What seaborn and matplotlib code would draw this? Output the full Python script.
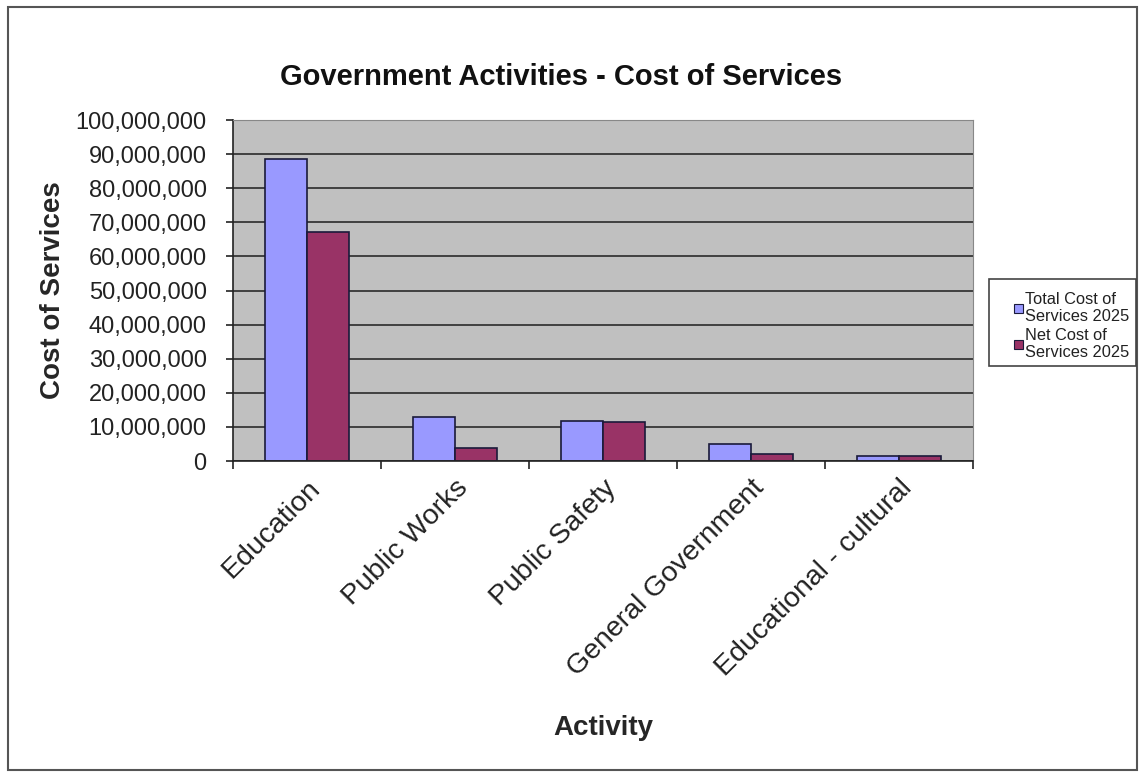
import matplotlib
matplotlib.use("Agg")
import matplotlib.pyplot as plt
import seaborn as sns
import pandas as pd
from matplotlib.patches import Rectangle
from matplotlib.ticker import FuncFormatter, MultipleLocator

categories = ["Education", "Public Works", "Public Safety", "General Government", "Educational - cultural"]
total_cost = [88_600_000, 13_000_000, 11_700_000, 4_900_000, 1_500_000]
net_cost = [67_100_000, 3_700_000, 11_300_000, 2_100_000, 1_600_000]
series_names = ["Total Cost of\nServices 2025", "Net Cost of\nServices 2025"]
colors = ["#9999FF", "#993366"]

df = pd.DataFrame({
    "Activity": categories * 2,
    "Cost": total_cost + net_cost,
    "Series": [series_names[0]] * len(categories) + [series_names[1]] * len(categories),
})

sns.set_style("white")
plt.rcParams["font.family"] = ["Liberation Sans", "DejaVu Sans"]

W, H = 1142, 775
fig = plt.figure(figsize=(W / 100, H / 100), dpi=100)
ax = fig.add_axes([233 / W, 1 - 461 / H, 740 / W, 341 / H])
ax.set_facecolor("#C0C0C0")

sns.barplot(data=df, x="Activity", y="Cost", hue="Series", palette=colors,
            width=0.57, edgecolor="#1a1a3a", linewidth=1.2, ax=ax, legend=False,
            saturation=1)

ax.set_ylim(0, 100_000_000)
ax.set_xlim(-0.5, len(categories) - 0.5)
ax.yaxis.set_major_locator(MultipleLocator(10_000_000))
ax.yaxis.set_major_formatter(FuncFormatter(lambda v, p: f"{int(v):,}"))
ax.grid(axis="y", color="#2a2a2a", linewidth=1.2)
ax.set_axisbelow(True)

for s in ["top", "right"]:
    ax.spines[s].set_visible(True)
    ax.spines[s].set_color("#888888")
    ax.spines[s].set_linewidth(0.8)
for s in ["left", "bottom"]:
    ax.spines[s].set_color("#222222")
    ax.spines[s].set_linewidth(1.2)

ax.tick_params(axis="y", which="major", left=True, length=5, width=1.2, labelsize=17,
               colors="#222222", pad=14)
ax.set_xticks(range(len(categories)))
ax.set_xticklabels(categories, rotation=45, ha="right", rotation_mode="anchor", fontsize=20.5, color="#222222")
ax.tick_params(axis="x", which="major", bottom=False, length=0, pad=10)
ax.set_xticks([i + 0.5 for i in range(-1, len(categories))], minor=True)
ax.tick_params(axis="x", which="minor", bottom=True, length=6, width=1.2, color="#222222")

ax.set_xlabel("Activity", fontsize=20, fontweight="bold")
ax.xaxis.set_label_coords(0.5, -0.745)
ax.set_ylabel("Cost of Services", fontsize=20, fontweight="bold")
ax.yaxis.set_label_coords(-0.226, 0.5)
fig.text(561 / W, 1 - 77 / H, "Government Activities - Cost of Services", fontsize=21,
         fontweight="bold", ha="center", va="center", color="#111111")

# legend box
fig.patches.append(Rectangle((989 / W, 1 - 366 / H), 147 / W, 87 / H, transform=fig.transFigure,
                             fill=True, facecolor="white", edgecolor="#444444", linewidth=1.2, zorder=2))
handles = [Rectangle((0, 0), 1, 1, facecolor=c, edgecolor="#1a1a3a", linewidth=0.8) for c in colors]
leg = fig.legend(handles, series_names, loc="upper left", bbox_to_anchor=(1003 / W, 1 - 281 / H),
                 fontsize=11.8, frameon=False,
                 handlelength=0.5, handleheight=0.5, handletextpad=0.15, borderpad=0.2,
                 labelspacing=0.25)
leg.set_zorder(3)
for t in leg.get_texts():
    t.set_linespacing(1.15)
    t.set_color("#222222")

fig.patches.append(Rectangle((8 / W, 5 / H), 1129 / W, 763 / H, transform=fig.transFigure,
                             fill=False, edgecolor="#555555", linewidth=1.5))

fig.savefig("out.png", dpi=100)
